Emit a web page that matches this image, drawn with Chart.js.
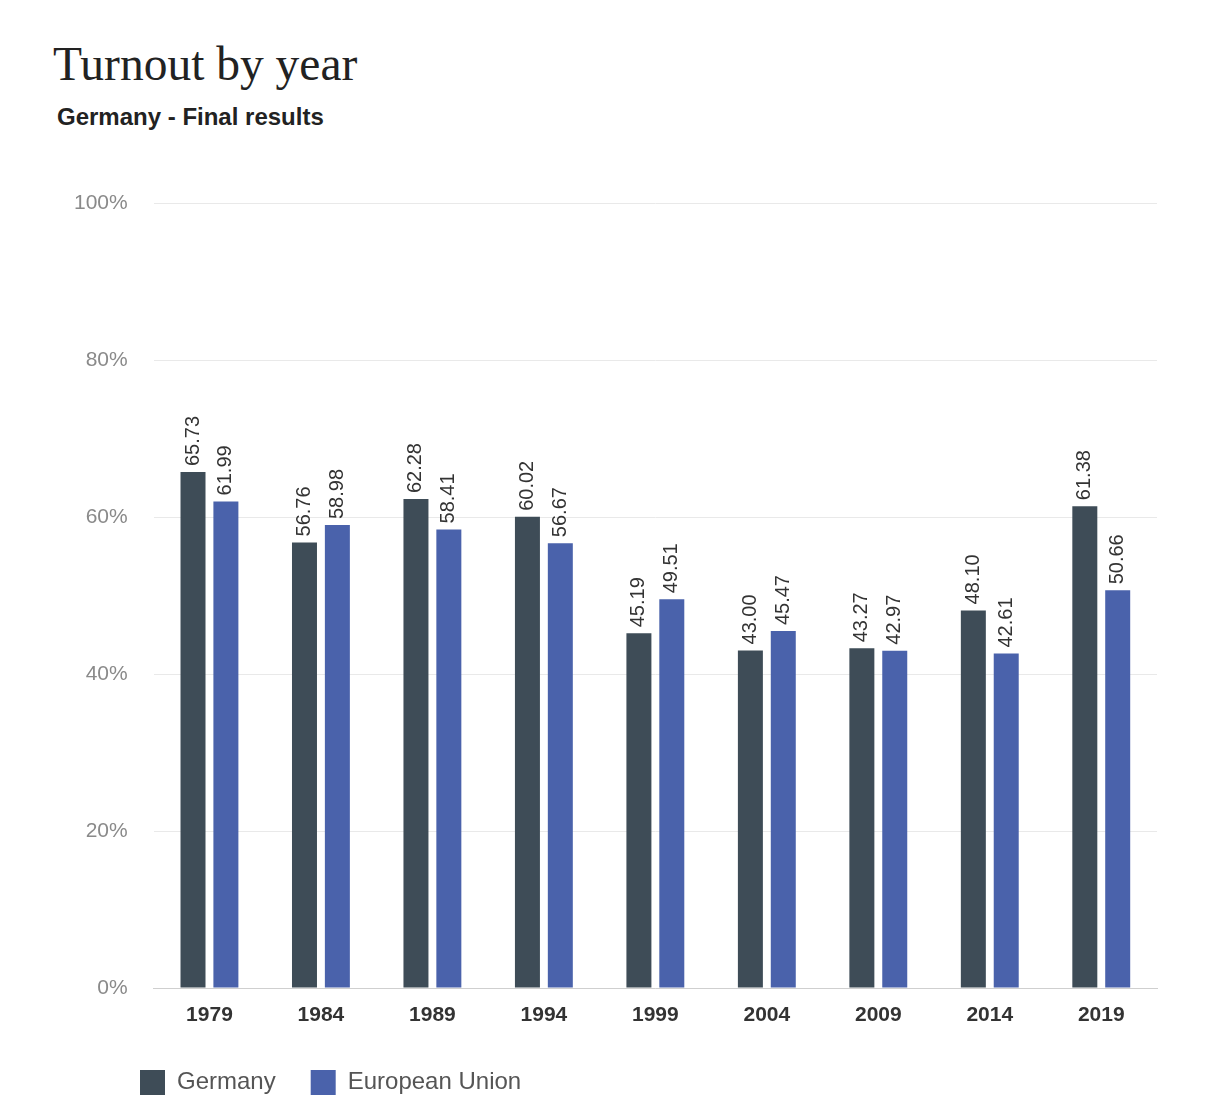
<!DOCTYPE html>
<html>
<head>
<meta charset="utf-8">
<script src="https://cdn.jsdelivr.net/npm/chart.js@4/dist/chart.umd.min.js"></script>
<style>
  html, body { margin: 0; padding: 0; background: #fff; overflow: hidden; }
  #wrap { position: relative; width: 1216px; height: 1095px; }
  #title { position: absolute; left: 53px; top: 41px; font: 47.5px/1 "Liberation Serif", "Times New Roman", serif; color: #222; white-space: nowrap; }
  #subtitle { position: absolute; left: 57px; top: 105px; font: bold 24px/1 "Liberation Sans", Arial, sans-serif; color: #222; white-space: nowrap; }
  #chart { position: absolute; left: 0; top: 0; }
</style>
</head>
<body>
<div id="wrap">
  <div id="title">Turnout by year</div>
  <div id="subtitle">Germany - Final results</div>
  <canvas id="chart" width="1216" height="1105"></canvas>
</div>
<script>
const years = ["1979", "1984", "1989", "1994", "1999", "2004", "2009", "2014", "2019"];
const germany = [65.73, 56.76, 62.28, 60.02, 45.19, 43.00, 43.27, 48.10, 61.38];
const europeanUnion = [61.99, 58.98, 58.41, 56.67, 49.51, 45.47, 42.97, 42.61, 50.66];
const yTicks = [0, 20, 40, 60, 80, 100];

// rotated value labels above each bar
const barLabels = {
    id: "barLabels",
    afterDatasetsDraw(chart) {
        const ctx = chart.ctx;
        ctx.save();
        ctx.font = '20px "Liberation Sans", Arial, sans-serif';
        ctx.fillStyle = "#333";
        ctx.textAlign = "left";
        ctx.textBaseline = "middle";
        chart.data.datasets.forEach((ds, i) => {
            chart.getDatasetMeta(i).data.forEach((bar, j) => {
                ctx.save();
                ctx.translate(bar.x, bar.y - 6);
                ctx.rotate(-Math.PI / 2);
                ctx.fillText(ds.data[j].toFixed(2), 0, 0);
                ctx.restore();
            });
        });
        ctx.restore();
    },
};

// legend sits further right than the y axis labels
const legendShift = {
    id: "legendShift",
    afterLayout(chart) {
        chart.legend.left += 57;
        chart.legend.right += 57;
    },
};

const ctx = document.getElementById("chart").getContext("2d");

new Chart(ctx, {
    type: "bar",
    data: {
        labels: years,
        datasets: [
            { label: "Germany", data: germany, backgroundColor: "#3e4c57" },
            { label: "European Union", data: europeanUnion, backgroundColor: "#4a62ab" },
        ],
    },
    options: {
        responsive: false,
        animation: false,
        categoryPercentage: 0.59,
        barPercentage: 0.76,
        layout: { padding: { left: 48, right: 59, top: 203, bottom: 0 } },
        scales: {
            x: {
                grid: { display: false },
                border: { display: true, color: "#cfcfcf", width: 1 },
                ticks: {
                    color: "#333",
                    font: { family: '"Liberation Sans", Arial, sans-serif', size: 21, weight: "bold" },
                    padding: 7,
                },
                afterFit(scale) { scale.height = 47; },
            },
            y: {
                min: 0,
                max: 100,
                afterBuildTicks(scale) { scale.ticks = yTicks.map(v => ({ value: v })); },
                grid: { color: "#e9e9e9", drawTicks: false },
                border: { display: false },
                ticks: {
                    color: "#8a8a8a",
                    font: { family: '"Liberation Sans", Arial, sans-serif', size: 21 },
                    padding: 26,
                    callback: v => v + "%",
                },
            },
        },
        plugins: {
            tooltip: { enabled: false },
            legend: {
                position: "bottom",
                align: "start",
                labels: {
                    boxWidth: 25,
                    boxHeight: 25,
                    padding: 35,
                    color: "#555",
                    font: { family: '"Liberation Sans", Arial, sans-serif', size: 24 },
                },
            },
        },
    },
    plugins: [barLabels, legendShift],
});
</script>
</body>
</html>
